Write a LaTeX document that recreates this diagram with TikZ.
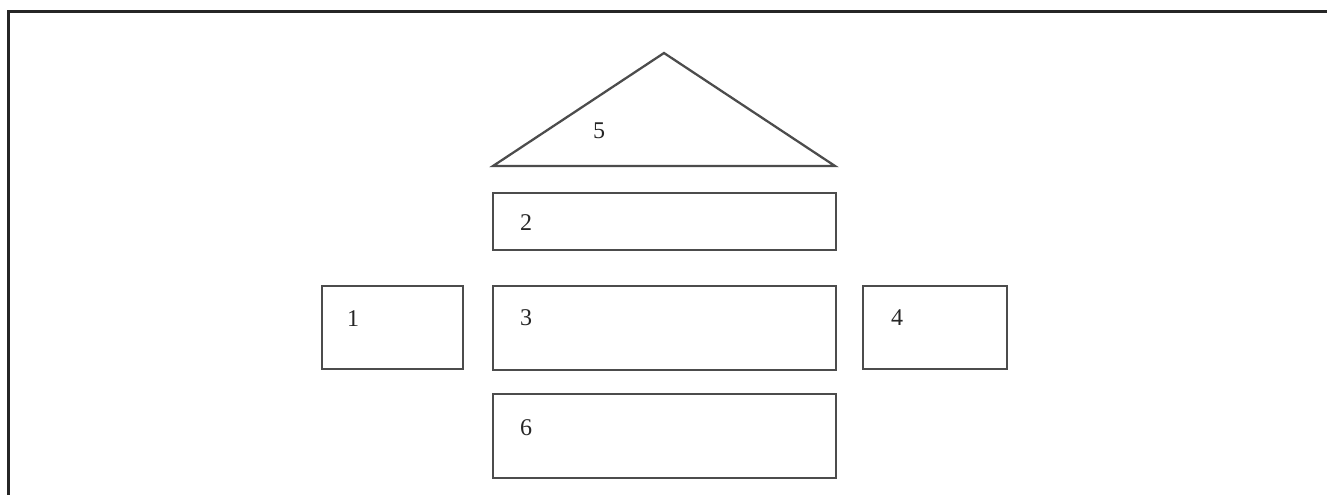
\documentclass[tikz,border=0pt]{standalone}
\usepackage{fontspec}
\setmainfont{Liberation Serif}
\tikzset{
  boxshape/.style={draw=black!70, line width=1.7pt},
  framestyle/.style={draw=black!85, line width=2.4pt},
  lbl/.style={font=\fontsize{18}{21}\selectfont, text=black!85, inner sep=0pt}
}
\begin{document}
\begin{tikzpicture}[x=0.75pt,y=-0.75pt]
\useasboundingbox (0,0) rectangle (1327,495);
\fill[white] (0,0) rectangle (1327,495);
% frame (top and left only)
\draw[framestyle] (8.5,500) -- (8.5,11.5) -- (1330,11.5);
% roof triangle
\coordinate (apex) at (664,53);
\coordinate (bl) at (493,166);
\coordinate (br) at (835,166);
\draw[boxshape, line join=miter] (bl) -- (apex) -- (br) -- cycle;
\node[lbl] (n5) at (599,131) {5};
% boxes
\draw[boxshape] (493,193) rectangle (836,250);
\node[lbl] (n2) at (526,223) {2};
\draw[boxshape] (493,286) rectangle (836,370);
\node[lbl] (n3) at (526,318) {3};
\draw[boxshape] (322,286) rectangle (463,369);
\node[lbl] (n1) at (353,319) {1};
\draw[boxshape] (863,286) rectangle (1007,369);
\node[lbl] (n4) at (897,318) {4};
\draw[boxshape] (493,394) rectangle (836,478);
\node[lbl] (n6) at (526,428) {6};
\end{tikzpicture}
\end{document}
